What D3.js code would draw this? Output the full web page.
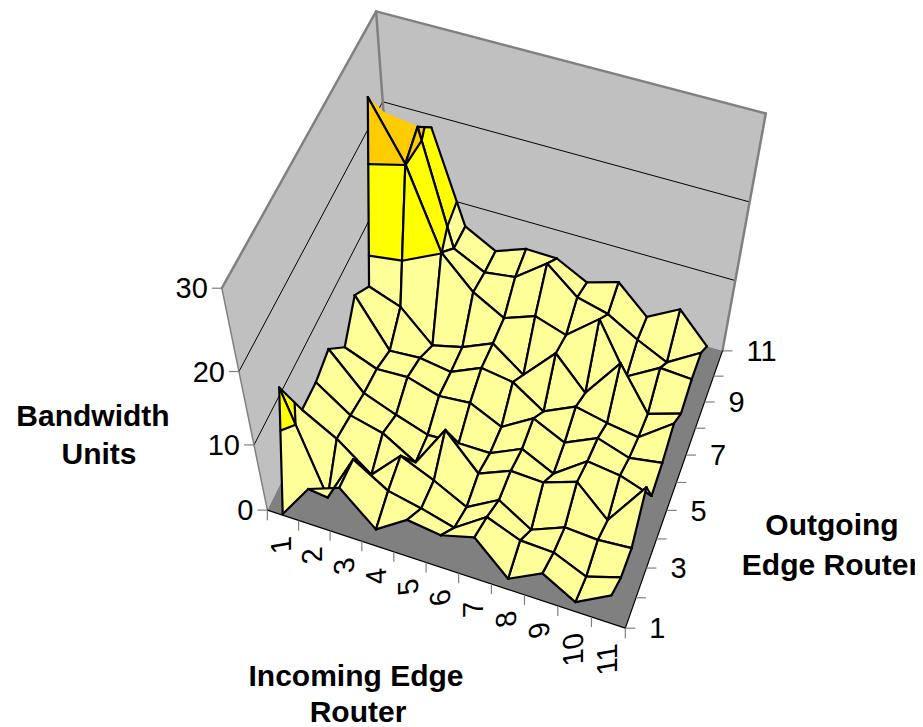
<!DOCTYPE html>
<html><head><meta charset="utf-8"><script src="https://cdn.jsdelivr.net/npm/d3@7"></script>
<style>body{margin:0;background:#fff}text{font-family:"Liberation Sans",Arial,sans-serif;fill:#000}</style></head><body><div id="chart-area"></div><script>
var incoming=[1,2,3,4,5,6,7,8,9,10,11];
var outgoing=[1,2,3,4,5,6,7,8,9,10,11];
var outgoingLabels=[1,3,5,7,9,11];
var zTicks=[0,10,20,30];
// one row per outgoing router, one value per incoming router
var bandwidth=[
[0.2,5.8,7.6,2.8,6.0,5.3,6.7,1.8,4.5,1.6,4.6],
[14.7,0.0,7.5,4.3,3.2,1.8,5.2,3.2,3.0,0.8,2.5],
[7.6,4.8,0.8,5.3,3.1,0.5,3.3,0.2,2.3,2.0,2.4],
[7.6,4.2,3.0,0.0,6.5,1.4,3.4,3.2,4.9,0.5,7.3],
[8.5,3.5,1.7,0.1,0.3,0.3,2.5,0.2,3.7,3.1,1.5],
[5.0,3.2,3.4,2.0,2.4,0.2,3.0,0.8,3.0,1.5,2.3],
[8.7,2.1,2.4,1.7,3.7,3.0,0.0,2.2,1.2,0.5,4.1],
[6.4,4.8,0.5,1.6,3.5,0.2,4.8,0.3,6.1,0.0,1.5],
[26.7,20.1,10.1,5.9,3.5,5.1,3.7,7.3,0.3,3.0,2.7],
[22.1,21.5,7.3,5.2,5.8,8.9,5.5,4.4,2.0,0.0,2.8],
[15.0,18.5,7.0,4.8,6.3,6.2,4.1,5.4,1.7,4.1,0.0]];
var bands=[[0,10,"#FFFF99"],[10,20,"#FFFF00"],[20,30,"#FFCC00"]];

var svg=d3.select("#chart-area").append("svg").attr("width",923).attr("height",727).style("display","block");
var x=d3.scalePoint().domain(incoming).range([0,1]).padding(0.5);
var y=d3.scalePoint().domain(outgoing).range([0,1]);
var z=d3.scaleLinear().domain([0,30]).range([0,1]);
var P=[330.43258,166.92414,-82.82275,267.37261,90.39328,-229.13116,-270.34566,510.12907,-0.04402,0.10253,-0.16806];
function proj(u,v,w){
	var d=P[8]*u+P[9]*v+P[10]*w+1;
	return [(P[0]*u+P[1]*v+P[2]*w+P[3])/d,(P[4]*u+P[5]*v+P[6]*w+P[7])/d];
}
var line=d3.line();
function poly(pts,fill,stroke,sw,g){
	return (g||svg).append("path").attr("d",line(pts.map(function(p){return proj(p[0],p[1],p[2])}))+"Z")
		.attr("fill",fill).attr("stroke",stroke).attr("stroke-width",sw).attr("stroke-linejoin","round");
}
function seg(a,b,stroke,sw,g){
	return (g||svg).append("path").attr("d",line([proj(a[0],a[1],a[2]),proj(b[0],b[1],b[2])]))
		.attr("stroke",stroke).attr("stroke-width",sw).attr("fill","none").attr("stroke-linecap","round");
}
// walls and floor
poly([[0,0,0],[0,0,1],[0,1,1],[0,1,0]],"#C0C0C0","none",0);
poly([[0,1,0],[0,1,1],[1,1,1],[1,1,0]],"#C0C0C0","none",0);
poly([[0,0,0],[1,0,0],[1,1,0],[0,1,0]],"#808080","none",0);
[10,20].forEach(function(t){
	seg([0,0,z(t)],[0,1,z(t)],"#000",1);
	seg([0,1,z(t)],[1,1,z(t)],"#000",1);
});
seg([0,0,0],[0,0,1],"#808080",1.5);
seg([0,0,1],[0,1,1],"#808080",2.5);
seg([0,1,1],[1,1,1],"#808080",2.5);
seg([0,1,1],[0,1,0],"#808080",2.5);
seg([1,1,1],[1,1,0],"#808080",2.5);
seg([0,0,0],[1,0,0],"#000",1.2);
seg([1,0,0],[1,1,0],"#000",1.2);

// clip a quad to one value band, working on the values
function clip(q,lo,hi){
	function cut(pts,keep,lev){
		var res=[];
		pts.forEach(function(a,k){
			var b=pts[(k+1)%pts.length];
			if(keep(a[3]))res.push(a);
			if(keep(a[3])!=keep(b[3])){
				var t=(lev-a[3])/(b[3]-a[3]);
				res.push([a[0]+t*(b[0]-a[0]),a[1]+t*(b[1]-a[1]),a[2]+t*(b[2]-a[2]),lev]);
			}
		});
		return res;
	}
	var r=cut(q,function(v){return v>=lo},lo);
	return cut(r,function(v){return v<=hi},hi);
}
function contour(q,lev){
	var c=[];
	q.forEach(function(a,k){
		var b=q[(k+1)%4];
		if((a[3]<lev)!=(b[3]<lev)){
			var t=(lev-a[3])/(b[3]-a[3]);
			c.push([a[0]+t*(b[0]-a[0]),a[1]+t*(b[1]-a[1]),a[2]+t*(b[2]-a[2])]);
		}
	});
	return c;
}
function vert(i,j){return [x(incoming[i]),y(outgoing[j]),z(bandwidth[j][i]),bandwidth[j][i]];}
// the reference shows no mesh line at the far corner behind the peak
function noLine(i,j){return i==0&&j>=9;}
var surf=svg.append("g");
var order=d3.range(10).sort(function(a,b){return Math.abs(b-4.5)-Math.abs(a-4.5)});
var lw=2.2;
for(var j=9;j>=0;j--){
	order.forEach(function(i){
		var ids=[[i,j],[i+1,j],[i+1,j+1],[i,j+1]];
		var q=ids.map(function(d){return vert(d[0],d[1])});
		bands.forEach(function(b){
			var c=clip(q,b[0],b[1]);
			if(c.length>2)poly(c,b[2],b[2],0.4,surf);
		});
		[10,20].forEach(function(t){
			if(noLine(i,j+1))return;
			var c=contour(q,t);
			if(c.length>=2)seg(c[0],c[1],"#000",lw,surf);
			if(c.length==4)seg(c[2],c[3],"#000",lw,surf);
		});
		ids.forEach(function(d,k){
			var e=ids[(k+1)%4];
			if(noLine(d[0],d[1])||noLine(e[0],e[1]))return;
			seg(q[k],q[(k+1)%4],"#000",lw,surf);
		});
	});
}

// ticks and labels
var g=svg.append("g");
d3.range(12).forEach(function(k){
	var p=proj(k/11,0,0);
	g.append("line").attr("x1",p[0]).attr("x2",p[0]).attr("y1",p[1]).attr("y2",p[1]+10).attr("stroke","#808080").attr("stroke-width",1.2);
});
incoming.forEach(function(d){
	var p=proj(x(d),0,0);
	g.append("text").attr("text-anchor","end").attr("dy","0.35em").attr("font-size",29)
		.attr("transform","matrix(0,-1,1,-0.17,"+(p[0]-2)+","+(p[1]+22)+")").text(d);
});
outgoing.forEach(function(d){
	var p=proj(1,y(d),0);
	g.append("line").attr("x1",p[0]).attr("x2",p[0]+10).attr("y1",p[1]).attr("y2",p[1]).attr("stroke","#808080").attr("stroke-width",1.2);
});
outgoingLabels.forEach(function(d){
	var p=proj(1,y(d),0);
	g.append("text").attr("x",p[0]+24).attr("y",p[1]).attr("dy","0.35em").attr("font-size",29).text(d);
});
zTicks.forEach(function(d){
	var p=proj(0,0,z(d));
	g.append("line").attr("x1",p[0]-10).attr("x2",p[0]).attr("y1",p[1]).attr("y2",p[1]).attr("stroke","#808080").attr("stroke-width",1.2);
	g.append("text").attr("x",p[0]-14).attr("y",p[1]).attr("dy","0.35em").attr("text-anchor","end").attr("font-size",29).text(d);
});

// axis titles
svg.append("defs").append("clipPath").attr("id","edge").append("rect").attr("width",915).attr("height",727);
var titles=[["Bandwidth",93,415],["Units",99,453],["Incoming Edge",356,675],["Router",358,711],["Outgoing",832,524],["Edge Router",831,564]];
svg.append("g").attr("clip-path","url(#edge)").selectAll("text").data(titles).enter().append("text")
	.attr("x",function(d){return d[1]}).attr("y",function(d){return d[2]}).attr("dy","0.35em")
	.attr("text-anchor","middle").attr("font-weight","bold").attr("font-size",30)
	.text(function(d){return d[0]});
</script></body></html>
